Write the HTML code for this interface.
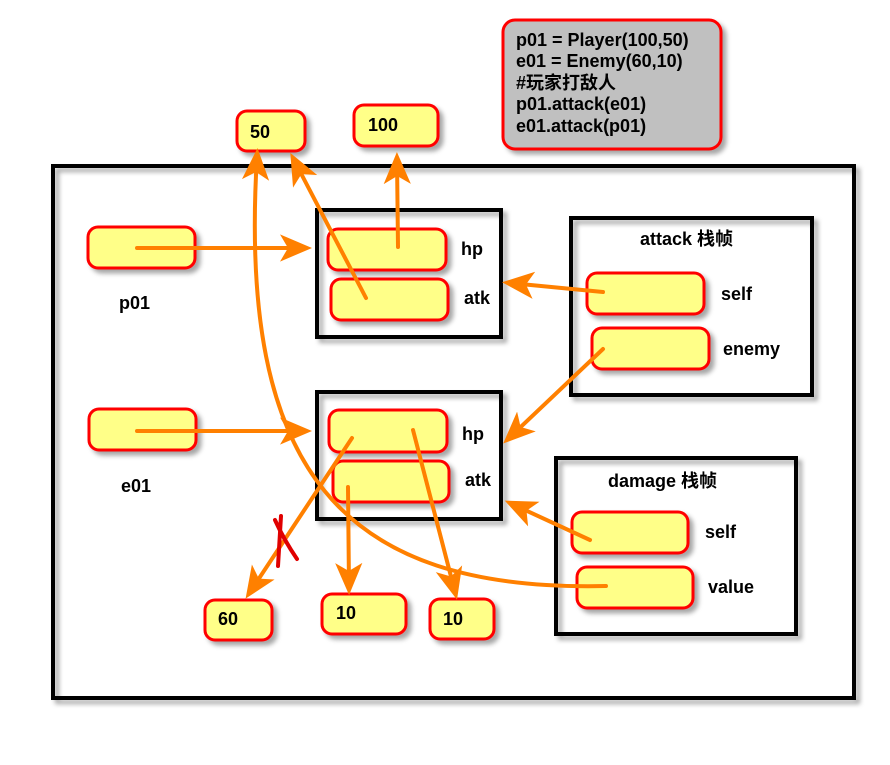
<!DOCTYPE html>
<html><head><meta charset="utf-8"><style>
html,body{margin:0;padding:0;background:#fff;}
svg text{font-family:"Liberation Sans","Noto Sans CJK SC",sans-serif;font-weight:bold;fill:#000;}
</style></head><body>
<svg width="890" height="760" xmlns="http://www.w3.org/2000/svg">
<defs>
<filter id="sh" x="-20%" y="-20%" width="150%" height="150%"><feDropShadow dx="4" dy="4" stdDeviation="2.5" flood-color="#000" flood-opacity="0.35"/></filter>
<marker id="ah" markerWidth="8" markerHeight="8" refX="6" refY="4" orient="auto" markerUnits="strokeWidth"><path d="M0,0.6 L8,4 L0,7.4 L2,4 z" fill="#ff8000"/></marker>
</defs>
<g filter="url(#sh)" fill="none" stroke="#000" stroke-width="4">
<rect x="53" y="166" width="801" height="532"/>
<rect x="317" y="210" width="184" height="127"/>
<rect x="317" y="392" width="184" height="127"/>
<rect x="571" y="218" width="241" height="177"/>
<rect x="556" y="458" width="240" height="176"/>
</g>
<g filter="url(#sh)" fill="#ffff88" stroke="#ff0000" stroke-width="3">
<rect x="503" y="20" width="218" height="129" rx="12" fill="#c0c0c0"/>
<rect x="237" y="111" width="68" height="40" rx="10"/>
<rect x="354" y="105" width="84" height="41" rx="10"/>
<rect x="88" y="227" width="107" height="41" rx="10"/>
<rect x="89" y="409" width="107" height="41" rx="10"/>
<rect x="328" y="229" width="118" height="41" rx="10"/>
<rect x="331" y="279" width="117" height="41" rx="10"/>
<rect x="329" y="410" width="118" height="42" rx="10"/>
<rect x="333" y="461" width="116" height="41" rx="10"/>
<rect x="587" y="273" width="117" height="41" rx="10"/>
<rect x="592" y="328" width="117" height="41" rx="10"/>
<rect x="572" y="512" width="116" height="41" rx="10"/>
<rect x="577" y="567" width="116" height="41" rx="10"/>
<rect x="205" y="600" width="67" height="40" rx="10"/>
<rect x="322" y="594" width="84" height="40" rx="10"/>
<rect x="430" y="599" width="64" height="40" rx="10"/>
</g>
<g font-size="18">
<text x="516" y="46">p01 = Player(100,50)</text>
<text x="516" y="67">e01 = Enemy(60,10)</text>
<text x="516" y="89">#玩家打敌人</text>
<text x="516" y="110">p01.attack(e01)</text>
<text x="516" y="132">e01.attack(p01)</text>
<text x="250" y="138">50</text>
<text x="368" y="131">100</text>
<text x="218" y="625">60</text>
<text x="336" y="619">10</text>
<text x="443" y="625">10</text>
<text x="119" y="309">p01</text>
<text x="121" y="492">e01</text>
<text x="461" y="255">hp</text>
<text x="464" y="304">atk</text>
<text x="462" y="440">hp</text>
<text x="465" y="486">atk</text>
<text x="640" y="245">attack 栈帧</text>
<text x="721" y="300">self</text>
<text x="723" y="355">enemy</text>
<text x="608" y="487">damage 栈帧</text>
<text x="705" y="538">self</text>
<text x="708" y="593">value</text>
</g>
<g stroke="#ff8000" stroke-width="4" fill="none" stroke-linecap="round" marker-end="url(#ah)">
<line x1="137" y1="248" x2="304" y2="248"/>
<line x1="137" y1="431" x2="304" y2="431"/>
<line x1="398" y1="247" x2="397" y2="160"/>
<line x1="366" y1="298" x2="294" y2="160"/>
<path d="M606,586 C340,592 238,470 257,156"/>
<line x1="603" y1="292" x2="510" y2="283"/>
<line x1="603" y1="349" x2="509" y2="438"/>
<line x1="590" y1="540" x2="512" y2="504"/>
<line x1="352" y1="438" x2="250" y2="592"/>
<line x1="413" y1="430" x2="455" y2="592"/>
<line x1="348" y1="487" x2="349" y2="587"/>
</g>
<g stroke="#e00000" stroke-width="4" fill="none" stroke-linecap="round">
<path d="M281,516 L278,566"/>
<path d="M275,520 Q284,540 297,559"/>
</g>
</svg>
</body></html>
